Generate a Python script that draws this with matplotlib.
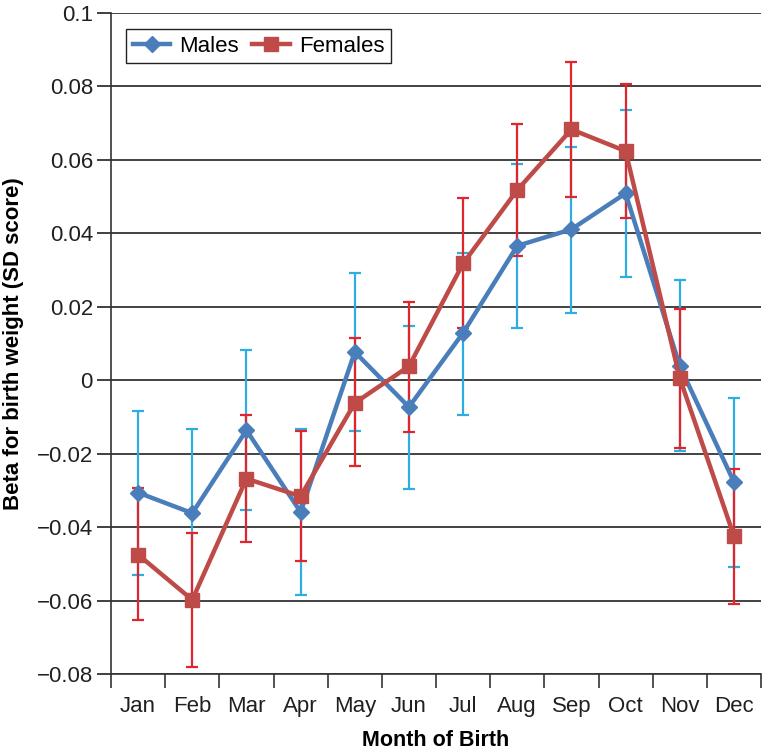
"""
Beta for birth weight by month of birth - males vs females
"""

import numpy as np
import matplotlib.pyplot as plt

plt.rcParams['font.family'] = ['Liberation Sans', 'DejaVu Sans']

months = ['Jan', 'Feb', 'Mar', 'Apr', 'May', 'Jun',
          'Jul', 'Aug', 'Sep', 'Oct', 'Nov', 'Dec']

# Males
males_beta = [-0.0306, -0.0362, -0.0136, -0.0359, 0.0077, -0.0073,
              0.0129, 0.0366, 0.0411, 0.0509, 0.0039, -0.0277]
males_low = [-0.0530, -0.0590, -0.0354, -0.0584, -0.0139, -0.0297,
             -0.0094, 0.0141, 0.0184, 0.0280, -0.0193, -0.0508]
males_high = [-0.0084, -0.0134, 0.0082, -0.0134, 0.0292, 0.0148,
              0.0347, 0.0590, 0.0636, 0.0736, 0.0273, -0.0048]

# Females
fem_beta = [-0.0475, -0.0598, -0.0268, -0.0316, -0.0062, 0.0038,
            0.0318, 0.0518, 0.0683, 0.0624, 0.0006, -0.0424]
fem_low = [-0.0654, -0.0781, -0.0441, -0.0493, -0.0234, -0.0142,
           0.0141, 0.0338, 0.0500, 0.0441, -0.0184, -0.0609]
fem_high = [-0.0293, -0.0416, -0.0094, -0.0139, 0.0114, 0.0214,
            0.0495, 0.0698, 0.0867, 0.0806, 0.0193, -0.0242]

x = np.arange(len(months))

fig = plt.figure(figsize=(7.62, 7.52), dpi=100)
ax = fig.add_axes([0.1457, 0.1037, 0.853, 0.879])

for vals, lo, hi, col in [(males_beta, males_low, males_high, '#2EADE2'),
                          (fem_beta, fem_low, fem_high, '#E0262C')]:
    vals = np.array(vals)
    yerr = [vals - np.array(lo), np.array(hi) - vals]
    ax.errorbar(x, vals, yerr=yerr, fmt='none', ecolor=col,
                elinewidth=1.6, capsize=4, capthick=1.6, zorder=3)

ax.plot(x, males_beta, color='#4A7EBB', linewidth=3.2, marker='D',
        markersize=8, label='Males', zorder=4)
ax.plot(x, fem_beta, color='#BE4B48', linewidth=3.2, marker='s',
        markersize=10, label='Females', zorder=5)

ax.set_xlim(-0.5, 11.5)
ax.set_ylim(-0.08, 0.1)
ax.set_yticks(np.arange(-0.08, 0.1001, 0.02))
ax.set_yticklabels(['\u22120.08', '\u22120.06', '\u22120.04', '\u22120.02', '0',
                    '0.02', '0.04', '0.06', '0.08', '0.1'])
ax.set_xticks(x)
ax.set_xticklabels(months)
ax.set_xticks(np.arange(-0.5, 12, 1), minor=True)
ax.tick_params(axis='x', which='major', length=0, pad=16, labelsize=16, colors='#231F20')
ax.tick_params(axis='x', which='minor', length=10, width=1.2, direction='out', color='#333333')
ax.tick_params(axis='y', length=10, width=1.2, direction='out', labelsize=16,
               colors='#231F20', pad=3)

ax.grid(axis='y', color='#222222', linewidth=1.2)
ax.set_axisbelow(True)
for s in ['top', 'right']:
    ax.spines[s].set_visible(False)
for s in ['left', 'bottom']:
    ax.spines[s].set_linewidth(1.2)
    ax.spines[s].set_color('#333333')

ax.set_xlabel('Month of Birth', fontsize=15.5, fontweight='bold', labelpad=9)
ax.set_ylabel('Beta for birth weight (SD score)', fontsize=16, fontweight='bold', labelpad=9)

leg = ax.legend(loc='upper left', bbox_to_anchor=(0.023, 0.976), ncol=2, fontsize=16,
                frameon=True, fancybox=False, edgecolor='#222222', framealpha=1,
                handlelength=1.7, columnspacing=0.6, handletextpad=0.4,
                borderpad=0.3, borderaxespad=0)
leg.get_frame().set_linewidth(1.0)

plt.savefig('out.png', dpi=100)
